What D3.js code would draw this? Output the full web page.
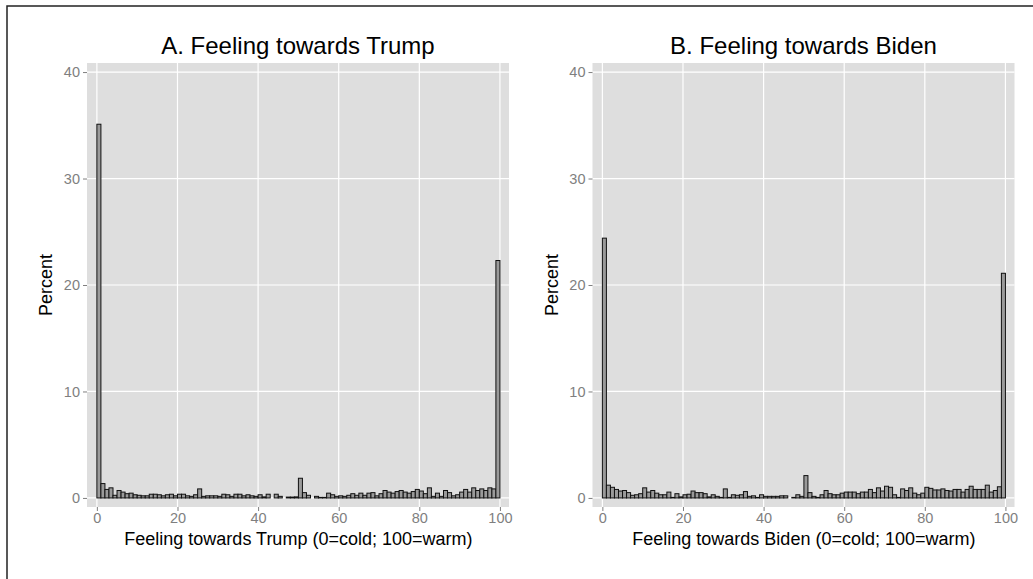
<!DOCTYPE html>
<html>
<head>
<meta charset="utf-8">
<script src="https://cdn.jsdelivr.net/npm/d3@7"></script>
<style>
  body { margin: 0; background: #fff; }
  text { font-family: "Liberation Sans", Arial, Helvetica, sans-serif; }
</style>
</head>
<body>
<svg id="chart" width="1033" height="579"></svg>
<script>
// percent of respondents per 1-point bin (0..99, last bin includes 100)
const trumpPct = [
  35.1, 1.35, 0.8, 0.95, 0.25, 0.7, 0.55, 0.4, 0.45, 0.3,
  0.25, 0.2, 0.2, 0.35, 0.35, 0.3, 0.2, 0.3, 0.35, 0.2,
  0.35, 0.35, 0.2, 0.15, 0.3, 0.85, 0.15, 0.2, 0.2, 0.2,
  0.15, 0.35, 0.3, 0.15, 0.35, 0.35, 0.2, 0.3, 0.2, 0.15,
  0.3, 0.1, 0.35, 0, 0.35, 0.15, 0, 0.08, 0.08, 0.1,
  1.85, 0.5, 0.25, 0, 0.15, 0.05, 0.05, 0.45, 0.3, 0.15,
  0.2, 0.15, 0.25, 0.4, 0.25, 0.45, 0.25, 0.45, 0.5, 0.2,
  0.4, 0.7, 0.55, 0.45, 0.6, 0.7, 0.55, 0.45, 0.6, 0.8,
  0.65, 0.4, 0.95, 0.15, 0.45, 0.15, 0.7, 0.5, 0.2, 0.3,
  0.55, 0.8, 0.55, 0.95, 0.7, 0.85, 0.7, 0.95, 0.85, 22.3
];
const bidenPct = [
  24.4, 1.2, 1.0, 0.8, 0.65, 0.7, 0.5, 0.25, 0.3, 0.4,
  0.95, 0.55, 0.7, 0.45, 0.3, 0.3, 0.55, 0.05, 0.4, 0.1,
  0.3, 0.35, 0.65, 0.5, 0.5, 0.4, 0.1, 0.3, 0.15, 0.05,
  0.85, 0.05, 0.3, 0.25, 0.3, 0.6, 0.15, 0.2, 0.05, 0.3,
  0.15, 0.15, 0.15, 0.15, 0.2, 0.2, 0, 0.05, 0.3, 0.15,
  2.1, 0.5, 0.15, 0.05, 0.3, 0.7, 0.4, 0.3, 0.3, 0.45,
  0.55, 0.55, 0.55, 0.4, 0.55, 0.55, 0.8, 0.5, 0.95, 0.65,
  1.1, 1.0, 0.3, 0.05, 0.85, 0.7, 0.95, 0.45, 0.3, 0.45,
  1.0, 0.9, 0.75, 0.75, 0.85, 0.7, 0.65, 0.8, 0.8, 0.55,
  0.8, 1.1, 0.8, 0.8, 0.8, 1.2, 0.55, 0.7, 1.05, 21.1
];
const xTicks = [0, 20, 40, 60, 80, 100];
const yTicks = [0, 10, 20, 30, 40];
const titles = ['A. Feeling towards Trump', 'B. Feeling towards Biden'];
const xLabels = ['Feeling towards Trump (0=cold; 100=warm)', 'Feeling towards Biden (0=cold; 100=warm)'];

const PANEL_TOP = 63;
const PANEL_BOTTOM = 507;
const PANEL_W = 422;
const panelLefts = [87, 592.5];

const svg = d3.select('#chart');

// outer frame
svg.append('rect')
  .attr('x', 7).attr('y', 6)
  .attr('width', 1040).attr('height', 590)
  .attr('fill', '#fff')
  .attr('stroke', '#222')
  .attr('stroke-width', 1.5);

const drawPanel = (values, idx) => {
  const left = panelLefts[idx];
  const g = svg.append('g');

  // x: 0..100 with a little padding each side
  const x = d3.scaleLinear().domain([-2.45, 102.25]).range([left, left + PANEL_W]);
  const y = d3.scaleLinear().domain([-0.85, 40.85]).range([PANEL_BOTTOM, PANEL_TOP]);

  g.append('rect')
    .attr('x', left).attr('y', PANEL_TOP)
    .attr('width', PANEL_W).attr('height', PANEL_BOTTOM - PANEL_TOP)
    .attr('fill', '#dedede');

  // grid
  g.selectAll('.gx').data(xTicks).join('line')
    .attr('x1', d => x(d)).attr('x2', d => x(d))
    .attr('y1', PANEL_TOP).attr('y2', PANEL_BOTTOM)
    .attr('stroke', '#fff').attr('stroke-width', 1.2);
  g.selectAll('.gy').data(yTicks).join('line')
    .attr('y1', d => y(d)).attr('y2', d => y(d))
    .attr('x1', left).attr('x2', left + PANEL_W)
    .attr('stroke', '#fff').attr('stroke-width', 1.2);

  // bars
  g.append('g').selectAll('rect').data(values).join('rect')
    .attr('x', (d, i) => x(i))
    .attr('width', (d, i) => x(i + 1) - x(i))
    .attr('y', d => y(d))
    .attr('height', d => y(0) - y(d))
    .attr('fill', '#9a9a9a')
    .attr('stroke', '#111')
    .attr('stroke-width', 1);

  // axes
  const xAxis = g.append('g')
    .attr('transform', `translate(0,${PANEL_BOTTOM})`)
    .call(d3.axisBottom(x).tickValues(xTicks).tickSize(4).tickPadding(2));
  const yAxis = g.append('g')
    .attr('transform', `translate(${left},0)`)
    .call(d3.axisLeft(y).tickValues(yTicks).tickSize(4).tickPadding(3));
  [xAxis, yAxis].forEach(a => {
    a.select('.domain').remove();
    a.selectAll('line').attr('stroke', '#7f7f7f');
    a.selectAll('text').attr('fill', '#7f7f7f').style('font-size', '14.5px');
  });

  g.append('text')
    .attr('x', left + PANEL_W / 2).attr('y', 54)
    .attr('text-anchor', 'middle')
    .style('font-size', '24px')
    .text(titles[idx]);

  g.append('text')
    .attr('x', x(50)).attr('y', 545)
    .attr('text-anchor', 'middle')
    .style('font-size', '18px')
    .text(xLabels[idx]);

  g.append('text')
    .attr('transform', `translate(${left - 35},${(PANEL_TOP + PANEL_BOTTOM) / 2}) rotate(-90)`)
    .attr('text-anchor', 'middle')
    .style('font-size', '18px')
    .text('Percent');
};

drawPanel(trumpPct, 0);
drawPanel(bidenPct, 1);
</script>
</body>
</html>
